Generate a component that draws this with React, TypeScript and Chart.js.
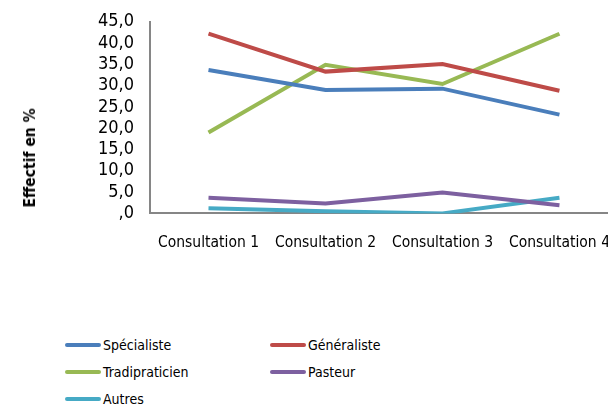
import React, { useEffect, useRef } from "react";
import { Chart, registerables } from "chart.js";

Chart.register(...registerables);

const categories = ["Consultation 1", "Consultation 2", "Consultation 3", "Consultation 4"];
const specialiste = [33.7, 29.0, 29.3, 23.2];
const generaliste = [42.2, 33.3, 35.1, 28.8];
const tradipraticien = [19.0, 34.9, 30.4, 42.2];
const pasteur = [3.7, 2.3, 4.9, 1.9];
const autres = [1.2, 0.5, 0.0, 3.7];
const seriesNames = ["Spécialiste", "Généraliste", "Tradipraticien", "Pasteur", "Autres"];
const seriesColors = ["#4A7EBB", "#BE4B48", "#98B954", "#7D60A0", "#46AAC5"];
const yTicks = [0, 5, 10, 15, 20, 25, 30, 35, 40, 45];

const FONT = "'Liberation Sans Narrow', 'DejaVu Sans Condensed', 'Noto Sans', sans-serif";

function fmt(v: number): string {
  if (v === 0) return ",0";
  return v.toFixed(1).replace(".", ",");
}

export default function App() {
  const ref = useRef<HTMLCanvasElement | null>(null);
  useEffect(() => {
    if (!ref.current) return;
    const all = [specialiste, generaliste, tradipraticien, pasteur, autres];
    const chart = new Chart(ref.current, {
      type: "line",
      data: {
        labels: categories,
        datasets: all.map((d, i) => ({
          label: seriesNames[i],
          data: d,
          borderColor: seriesColors[i],
          backgroundColor: seriesColors[i],
          borderWidth: 4,
          pointRadius: 0,
          tension: 0,
        })),
      },
      options: {
        animation: false,
        responsive: false,
        maintainAspectRatio: false,
        layout: { padding: { top: 7, left: 0, right: 0, bottom: 0 } },
        plugins: { legend: { display: false }, tooltip: { enabled: false } },
        scales: {
          x: {
            type: "category",
            offset: true,
            grid: { display: false, drawTicks: false },
            border: { color: "#868686", width: 2 },
            ticks: { color: "#000", font: { family: FONT, size: 15.5 }, padding: 20, maxRotation: 0, autoSkip: false },
          },
          y: {
            min: 0,
            max: 45,
            afterBuildTicks: (s: any) => {
              s.ticks = yTicks.map((v) => ({ value: v }));
            },
            afterFit: (s: any) => {
              s.width = 150;
            },
            grid: { display: false, drawTicks: false },
            border: { color: "#868686", width: 2 },
            ticks: {
              color: "#000",
              autoSkip: false,
              font: { family: FONT, size: 18 },
              padding: 16,
              callback: (v: any) => fmt(Number(v)),
            },
          },
        },
      },
    });
    return () => chart.destroy();
  }, []);

  const legendPos = [
    { x: 65, y: 345 },
    { x: 270, y: 345 },
    { x: 65, y: 372 },
    { x: 270, y: 372 },
    { x: 65, y: 399 },
  ];

  return (
    <div style={{ position: "fixed", left: 0, top: 0, width: 608, height: 407, overflow: "hidden", background: "#fff" }}>
      <canvas ref={ref} width={630} height={277} style={{ position: "absolute", left: 0, top: -5 }} />
      <div
        style={{
          position: "absolute",
          left: 30,
          top: 158,
          transform: "translate(-50%, -50%) rotate(-90deg)",
          fontFamily: "'DejaVu Sans Condensed', 'Liberation Sans', sans-serif",
          fontWeight: "bold",
          fontSize: 15.5,
          whiteSpace: "nowrap",
          color: "#000",
        }}
      >
        Effectif en %
      </div>
      {seriesNames.map((n, i) => (
        <div key={n} style={{ position: "absolute", left: legendPos[i].x, top: legendPos[i].y - 10, height: 20, display: "flex", alignItems: "center" }}>
          <div style={{ width: 36, height: 4, borderRadius: 2, background: seriesColors[i], marginRight: 2 }} />
          <span style={{ fontFamily: FONT, fontSize: 14, color: "#000" }}>{n}</span>
        </div>
      ))}
    </div>
  );
}
